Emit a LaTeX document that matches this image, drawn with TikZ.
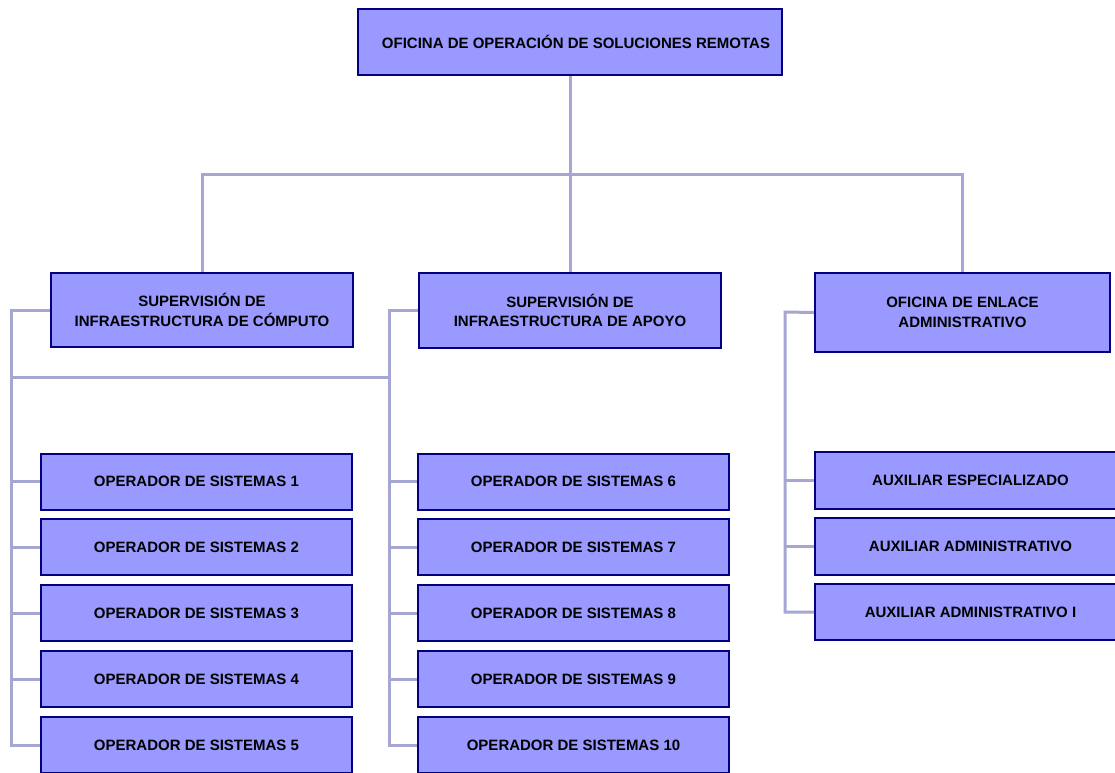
\documentclass[tikz,border=0pt]{standalone}
\usepackage{fontspec}
\setmainfont{Liberation Sans}
\definecolor{boxfill}{HTML}{9999FF}
\definecolor{boxline}{HTML}{000080}
\definecolor{linkline}{HTML}{A6A6D2}
\begin{document}
\begin{tikzpicture}[x=1pt,y=-1pt,
  unit/.style={draw=boxline, fill=boxfill, line width=2pt, align=center,
    inner sep=0pt, font=\fontsize{15}{19.5}\selectfont\bfseries},
  opbox/.style={unit, minimum width=311pt, minimum height=56pt},
  conn/.style={draw=linkline, line width=3pt}]
\clip (0,0) rectangle (1115,772);
\fill[white] (0,0) rectangle (1115,772);

% anchor points for the link lines
\coordinate (busL) at (202,174);
\coordinate (colA) at (11,310);
\coordinate (colB) at (389,310);
\coordinate (colC) at (785,312);
\coordinate (crossL) at (11,377);
\coordinate (crossR) at (391,377);

% top level
\node[unit, minimum width=424pt, minimum height=66pt] (top) at (570,42)
  {\hspace*{12pt}OFICINA DE OPERACIÓN DE SOLUCIONES REMOTAS};

% second level
\node[unit, minimum width=302pt, minimum height=74pt] (s1) at (202,310)
  {SUPERVISIÓN DE\\INFRAESTRUCTURA DE CÓMPUTO};
\node[unit, minimum width=302pt, minimum height=75pt] (s2) at (570,310.5)
  {SUPERVISIÓN DE\\INFRAESTRUCTURA DE APOYO};
\node[unit, minimum width=295pt, minimum height=79pt] (s3) at (962.5,312.5)
  {OFICINA DE ENLACE\\ADMINISTRATIVO};

% operators, left column
\foreach \i/\y in {1/481.5,2/547,3/613,4/679,5/745}
  \node[opbox] (o\i) at (196.5,\y) {OPERADOR DE SISTEMAS \i};
% operators, middle column
\foreach \i/\y in {6/481.5,7/547,8/613,9/679,10/745}
  \node[opbox] (o\i) at (573.5,\y) {OPERADOR DE SISTEMAS \i};
% administrative staff
\node[opbox, minimum height=57pt] (a1) at (970.5,480.5) {AUXILIAR ESPECIALIZADO};
\node[opbox, minimum height=57pt] (a2) at (970.5,546.5) {AUXILIAR ADMINISTRATIVO};
\node[opbox, minimum height=56pt] (a3) at (970.5,612) {AUXILIAR ADMINISTRATIVO I};

% links
\path[conn] (top.south) -- (top.south |- busL);
\path[conn] (s1.north) -- (busL) -- (s3.north |- busL) -- (s3.north);
\path[conn] (s2.north) -- (s2.north |- busL);

\path[conn] (s1.west) -- (s1.west -| colA) -- (colA |- o5.west) -- (o5.west);
\foreach \i in {1,...,4} \path[conn] (colA |- o\i.west) -- (o\i.west);
\path[conn] (crossL) -- (crossR);

\path[conn] (s2.west) -- (s2.west -| colB) -- (colB |- o10.west) -- (o10.west);
\foreach \i in {6,...,9} \path[conn] (colB |- o\i.west) -- (o\i.west);

\path[conn] (s3.west) -- (colC) -- (colC |- a3.west) -- (a3.west);
\foreach \i in {1,2} \path[conn] (colC |- a\i.west) -- (a\i.west);
\end{tikzpicture}
\end{document}
